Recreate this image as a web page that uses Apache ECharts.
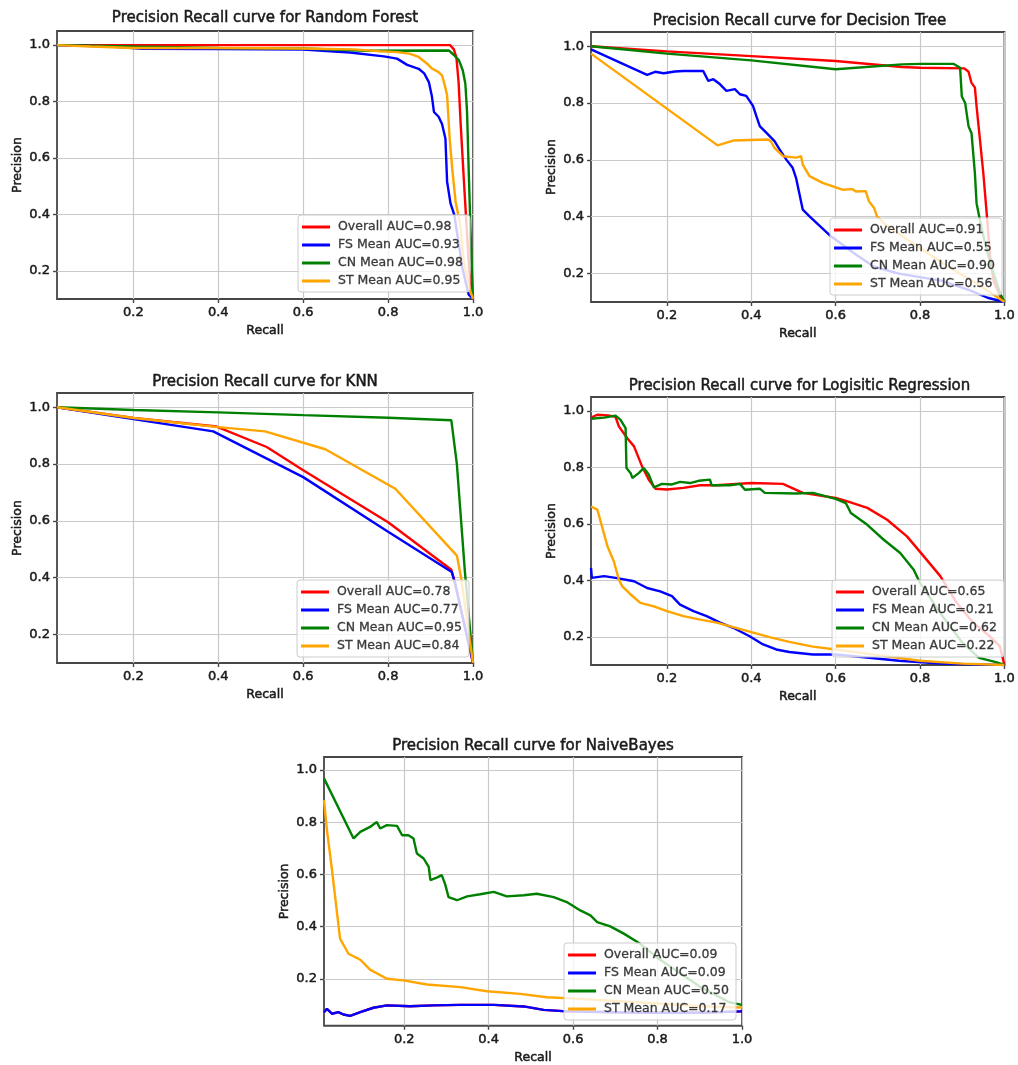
<!DOCTYPE html>
<html>
<head>
<meta charset="utf-8">
<script src="https://cdn.jsdelivr.net/npm/echarts@6/dist/echarts.min.js"></script>
<style>
html,body{margin:0;padding:0;background:#fff;}
#chart{width:1018px;height:1065px;}
</style>
</head>
<body>
<div id="chart"></div>
<script>
// ---------- data ----------
const plotTitles = [
  'Precision Recall curve for Random Forest',
  'Precision Recall curve for Decision Tree',
  'Precision Recall curve for KNN',
  'Precision Recall curve for Logisitic Regression',
  'Precision Recall curve for NaiveBayes'
];
const seriesPrefixes = ['Overall AUC=', 'FS Mean AUC=', 'CN Mean AUC=', 'ST Mean AUC='];
const aucRF = ['0.98', '0.93', '0.98', '0.95'];
const aucDT = ['0.91', '0.55', '0.90', '0.56'];
const aucKNN = ['0.78', '0.77', '0.95', '0.84'];
const aucLR = ['0.65', '0.21', '0.62', '0.22'];
const aucNB = ['0.09', '0.09', '0.50', '0.17'];
const xTickValues = [0.2, 0.4, 0.6, 0.8, 1.0];
const yTickValues = [0.2, 0.4, 0.6, 0.8, 1.0];
const xAxisLabel = 'Recall';
const yAxisLabel = 'Precision';

// Random Forest
const rfOverall = [[0.02,1.0],[0.3,1.0],[0.6,1.0],[0.946,1.0],[0.955,0.985],[0.961,0.955],[0.966,0.87],[0.971,0.72],[0.977,0.56],[0.984,0.38],[0.991,0.2],[1.0,0.1]];
const rfFS = [[0.02,1.0],[0.15,0.995],[0.22,0.987],[0.4,0.986],[0.6,0.984],[0.71,0.974],[0.79,0.96],[0.821,0.952],[0.845,0.93],[0.872,0.916],[0.885,0.9],[0.896,0.869],[0.903,0.82],[0.908,0.763],[0.919,0.746],[0.927,0.72],[0.935,0.669],[0.939,0.516],[0.947,0.439],[0.956,0.398],[0.966,0.3],[0.975,0.21],[0.99,0.115],[1.0,0.1]];
const rfCN = [[0.02,1.0],[0.2,0.995],[0.4,0.99],[0.6,0.988],[0.75,0.98],[0.943,0.981],[0.955,0.965],[0.967,0.946],[0.976,0.91],[0.982,0.863],[0.986,0.763],[0.99,0.55],[0.994,0.351],[0.998,0.18],[1.0,0.1]];
const rfST = [[0.02,1.0],[0.1,0.995],[0.2,0.99],[0.4,0.99],[0.6,0.988],[0.72,0.985],[0.78,0.978],[0.821,0.975],[0.85,0.97],[0.872,0.958],[0.892,0.934],[0.904,0.916],[0.918,0.905],[0.927,0.893],[0.933,0.86],[0.939,0.822],[0.945,0.669],[0.951,0.563],[0.959,0.445],[0.97,0.363],[0.978,0.233],[0.994,0.127],[1.0,0.1]];

// Decision Tree
const dtOverall = [[0.02,1.0],[0.2,0.982],[0.4,0.965],[0.6,0.948],[0.757,0.927],[0.8,0.924],[0.905,0.922],[0.915,0.91],[0.922,0.871],[0.93,0.855],[0.934,0.788],[0.942,0.671],[0.95,0.553],[0.958,0.412],[0.966,0.26],[0.975,0.17],[0.99,0.12],[1.0,0.1]];
const dtFS = [[0.02,0.989],[0.153,0.899],[0.172,0.91],[0.192,0.905],[0.219,0.911],[0.239,0.913],[0.286,0.913],[0.298,0.878],[0.31,0.884],[0.326,0.866],[0.341,0.843],[0.361,0.849],[0.373,0.831],[0.388,0.825],[0.404,0.79],[0.412,0.754],[0.42,0.719],[0.436,0.695],[0.455,0.666],[0.467,0.637],[0.483,0.601],[0.498,0.572],[0.506,0.537],[0.522,0.425],[0.538,0.401],[0.585,0.336],[0.644,0.271],[0.691,0.224],[0.75,0.2],[0.85,0.175],[0.92,0.14],[0.96,0.115],[1.0,0.1]];
const dtCN = [[0.02,1.0],[0.2,0.974],[0.4,0.95],[0.6,0.919],[0.757,0.936],[0.8,0.938],[0.879,0.938],[0.895,0.924],[0.899,0.823],[0.907,0.8],[0.915,0.718],[0.922,0.694],[0.93,0.553],[0.934,0.447],[0.942,0.388],[0.952,0.32],[0.97,0.22],[0.99,0.13],[1.0,0.1]];
const dtST = [[0.02,0.974],[0.32,0.651],[0.357,0.668],[0.42,0.671],[0.44,0.672],[0.447,0.664],[0.455,0.642],[0.475,0.613],[0.506,0.608],[0.518,0.613],[0.522,0.583],[0.538,0.543],[0.569,0.519],[0.616,0.495],[0.64,0.497],[0.648,0.489],[0.671,0.49],[0.679,0.454],[0.691,0.431],[0.698,0.401],[0.72,0.37],[0.85,0.24],[0.95,0.15],[1.0,0.1]];

// KNN
const knnOverall = [[0.02,1.0],[0.2,0.962],[0.396,0.932],[0.514,0.86],[0.6,0.778],[0.8,0.595],[0.949,0.428],[0.956,0.39],[1.0,0.1]];
const knnFS = [[0.02,1.0],[0.2,0.958],[0.388,0.915],[0.6,0.754],[0.8,0.562],[0.95,0.42],[0.958,0.38],[1.0,0.1]];
const knnCN = [[0.02,1.0],[0.2,0.99],[0.4,0.982],[0.6,0.972],[0.8,0.963],[0.949,0.954],[0.962,0.8],[0.981,0.42],[1.0,0.1]];
const knnST = [[0.02,1.0],[0.2,0.962],[0.4,0.93],[0.51,0.915],[0.652,0.852],[0.817,0.713],[0.962,0.478],[0.972,0.4],[1.0,0.1]];

// Logistic Regression
const lrOverall = [[0.02,0.977],[0.035,0.987],[0.06,0.985],[0.078,0.98],[0.086,0.946],[0.106,0.904],[0.122,0.875],[0.141,0.804],[0.157,0.757],[0.173,0.725],[0.2,0.722],[0.239,0.728],[0.279,0.737],[0.318,0.737],[0.4,0.745],[0.475,0.742],[0.522,0.71],[0.6,0.692],[0.628,0.68],[0.675,0.657],[0.722,0.615],[0.769,0.556],[0.809,0.485],[0.848,0.415],[0.887,0.32],[0.926,0.25],[0.965,0.202],[0.989,0.167],[1.0,0.1]];
const lrFS = [[0.02,0.444],[0.022,0.409],[0.051,0.415],[0.082,0.408],[0.122,0.397],[0.153,0.373],[0.184,0.361],[0.212,0.344],[0.231,0.314],[0.263,0.291],[0.294,0.273],[0.326,0.25],[0.357,0.232],[0.396,0.202],[0.428,0.173],[0.459,0.155],[0.49,0.146],[0.546,0.137],[0.6,0.137],[0.65,0.13],[0.75,0.115],[0.85,0.105],[1.0,0.1]];
const lrCN = [[0.02,0.973],[0.051,0.977],[0.078,0.984],[0.09,0.969],[0.102,0.94],[0.104,0.798],[0.114,0.78],[0.118,0.763],[0.133,0.78],[0.145,0.798],[0.157,0.775],[0.169,0.73],[0.188,0.742],[0.212,0.74],[0.231,0.749],[0.255,0.745],[0.275,0.753],[0.302,0.757],[0.306,0.737],[0.349,0.737],[0.373,0.742],[0.385,0.721],[0.42,0.725],[0.432,0.71],[0.506,0.708],[0.546,0.71],[0.6,0.689],[0.624,0.674],[0.636,0.639],[0.675,0.597],[0.714,0.544],[0.753,0.497],[0.785,0.438],[0.8,0.391],[0.85,0.28],[0.9,0.18],[0.94,0.125],[0.98,0.11],[1.0,0.1]];
const lrST = [[0.02,0.662],[0.035,0.651],[0.047,0.586],[0.059,0.521],[0.074,0.468],[0.086,0.403],[0.094,0.379],[0.114,0.35],[0.137,0.32],[0.169,0.308],[0.2,0.291],[0.239,0.273],[0.279,0.261],[0.318,0.25],[0.357,0.234],[0.396,0.218],[0.443,0.199],[0.49,0.182],[0.546,0.165],[0.6,0.155],[0.7,0.135],[0.8,0.115],[0.9,0.105],[1.0,0.1]];

// Naive Bayes (overall curve lies under the FS curve)
const nbOverall = [[0.01,0.072],[0.017,0.085],[0.029,0.066],[0.044,0.072],[0.056,0.063],[0.072,0.058],[0.096,0.072],[0.127,0.089],[0.159,0.098],[0.214,0.095],[0.269,0.098],[0.333,0.1],[0.412,0.1],[0.483,0.094],[0.53,0.081],[0.585,0.075],[0.7,0.072],[0.8,0.07],[0.9,0.07],[1.0,0.075]];
const nbFS = [[0.01,0.072],[0.017,0.085],[0.029,0.066],[0.044,0.072],[0.056,0.063],[0.072,0.058],[0.096,0.072],[0.127,0.089],[0.159,0.098],[0.214,0.095],[0.269,0.098],[0.333,0.1],[0.412,0.1],[0.483,0.094],[0.53,0.081],[0.585,0.075],[0.7,0.072],[0.8,0.07],[0.9,0.07],[1.0,0.075]];
const nbCN = [[0.01,0.968],[0.08,0.738],[0.096,0.763],[0.119,0.782],[0.135,0.801],[0.143,0.776],[0.159,0.789],[0.183,0.786],[0.195,0.75],[0.21,0.75],[0.222,0.738],[0.23,0.68],[0.246,0.661],[0.258,0.629],[0.262,0.578],[0.277,0.588],[0.289,0.597],[0.297,0.562],[0.305,0.513],[0.325,0.501],[0.349,0.516],[0.38,0.524],[0.412,0.533],[0.443,0.516],[0.483,0.52],[0.514,0.526],[0.554,0.513],[0.585,0.494],[0.617,0.462],[0.641,0.443],[0.657,0.417],[0.688,0.401],[0.72,0.373],[0.759,0.334],[0.8,0.28],[0.9,0.17],[0.97,0.11],[1.0,0.1]];
const nbST = [[0.01,0.885],[0.017,0.77],[0.029,0.616],[0.048,0.354],[0.068,0.296],[0.096,0.273],[0.119,0.235],[0.159,0.2],[0.198,0.194],[0.254,0.178],[0.333,0.168],[0.396,0.152],[0.475,0.142],[0.538,0.129],[0.593,0.125],[0.7,0.115],[0.8,0.105],[0.9,0.095],[1.0,0.09]];

// ---------- layout / style ----------
const FONT = 'DejaVu Sans';
const TXT = '#1a1a1a';
const lineColors = ['#ff0000', '#0000ff', '#008000', '#ffa500'];
const panels = [
  { title: plotTitles[0], auc: aucRF, data: [rfOverall, rfFS, rfCN, rfST],
    grid: {left: 57, top: 31, width: 416, height: 268}, xr: [0.02, 1.0], yr: [0.1, 1.05], titleY: 11,
    legend: {right: 548, bottom: 773} },
  { title: plotTitles[1], auc: aucDT, data: [dtOverall, dtFS, dtCN, dtST],
    grid: {left: 591, top: 32, width: 417, height: 270}, xr: [0.02, 1.0], yr: [0.1, 1.05], titleY: 14,
    legend: {right: 16, bottom: 770} },
  { title: plotTitles[2], auc: aucKNN, data: [knnOverall, knnFS, knnCN, knnST],
    grid: {left: 57, top: 393, width: 416, height: 270}, xr: [0.02, 1.0], yr: [0.1, 1.05], titleY: 375,
    legend: {right: 549, bottom: 408} },
  { title: plotTitles[3], auc: aucLR, data: [lrOverall, lrFS, lrCN, lrST],
    grid: {left: 591, top: 397, width: 417, height: 268}, xr: [0.02, 1.0], yr: [0.1, 1.05], titleY: 379,
    legend: {right: 14, bottom: 408} },
  { title: plotTitles[4], auc: aucNB, data: [nbOverall, nbFS, nbCN, nbST],
    grid: {left: 324, top: 757, width: 418, height: 269}, xr: [0.01, 1.0], yr: [0.02, 1.05], titleY: 739,
    legend: {right: 282, bottom: 45} }
];

const option = {
  animation: false,
  backgroundColor: '#ffffff',
  textStyle: { fontFamily: FONT },
  title: [], grid: [], xAxis: [], yAxis: [], legend: [], series: []
};

const heavy = { textBorderColor: TXT, textBorderWidth: 0.5 };

panels.forEach((p, i) => {
  option.title.push({
    text: p.title,
    left: p.grid.left + p.grid.width / 2,
    top: p.titleY,
    textAlign: 'center',
    padding: 0,
    textStyle: Object.assign({ fontFamily: FONT, fontSize: 15, fontWeight: 'normal', color: TXT }, heavy)
  });
  option.grid.push(Object.assign({
    show: true, borderColor: '#474747', borderWidth: 1.8, backgroundColor: 'transparent', containLabel: false
  }, p.grid));
  option.xAxis.push({
    type: 'value', gridIndex: i, min: p.xr[0], max: p.xr[1],
    name: xAxisLabel, nameLocation: 'middle', nameGap: 25,
    nameTextStyle: Object.assign({ fontFamily: FONT, fontSize: 12.5, color: TXT }, heavy),
    axisLine: { show: false },
    axisTick: { show: true, inside: false, length: 4, customValues: xTickValues, lineStyle: { color: '#474747', width: 1.4 } },
    axisLabel: Object.assign({ customValues: xTickValues, margin: 7, fontFamily: FONT, fontSize: 13, color: TXT,
      formatter: v => Number(v).toFixed(1) }, heavy),
    splitLine: { show: true, lineStyle: { color: '#c9c9c9', width: 1.2 } }
  });
  option.yAxis.push({
    type: 'value', gridIndex: i, min: p.yr[0], max: p.yr[1],
    name: yAxisLabel, nameLocation: 'middle', nameGap: 33, nameRotate: 90,
    nameTextStyle: Object.assign({ fontFamily: FONT, fontSize: 12.5, color: TXT }, heavy),
    axisLine: { show: false },
    axisTick: { show: true, inside: false, length: 4, customValues: yTickValues, lineStyle: { color: '#474747', width: 1.4 } },
    axisLabel: Object.assign({ customValues: yTickValues, margin: 7, fontFamily: FONT, fontSize: 13, color: TXT,
      formatter: v => Number(v).toFixed(1) }, heavy),
    splitLine: { show: true, lineStyle: { color: '#c9c9c9', width: 1.2 } }
  });
  const names = seriesPrefixes.map((s, k) => s + p.auc[k]);
  option.legend.push({
    data: names,
    orient: 'vertical',
    right: p.legend.right, bottom: p.legend.bottom,
    icon: 'rect', itemWidth: 28, itemHeight: 3, itemGap: 4,
    padding: [5, 7, 4, 4],
    backgroundColor: 'rgba(255,255,255,0.8)',
    borderColor: '#cccccc', borderWidth: 1, borderRadius: 3,
    selectedMode: false,
    textStyle: { fontFamily: FONT, fontSize: 12.5, color: '#3a3a3a', lineHeight: 14, padding: [0, 0, 0, 3],
      textBorderColor: '#3a3a3a', textBorderWidth: 0.3 }
  });
  names.forEach((n, k) => {
    option.series.push({
      type: 'line', name: n, xAxisIndex: i, yAxisIndex: i,
      data: p.data[k], showSymbol: false, symbol: 'none', clip: true,
      lineStyle: { color: lineColors[k], width: 2.4 }, itemStyle: { color: lineColors[k] },
      z: 2 + k * 0.01
    });
  });
});

const chart = echarts.init(document.getElementById('chart'), null, { renderer: 'canvas' });
chart.setOption(option);
</script>
</body>
</html>
